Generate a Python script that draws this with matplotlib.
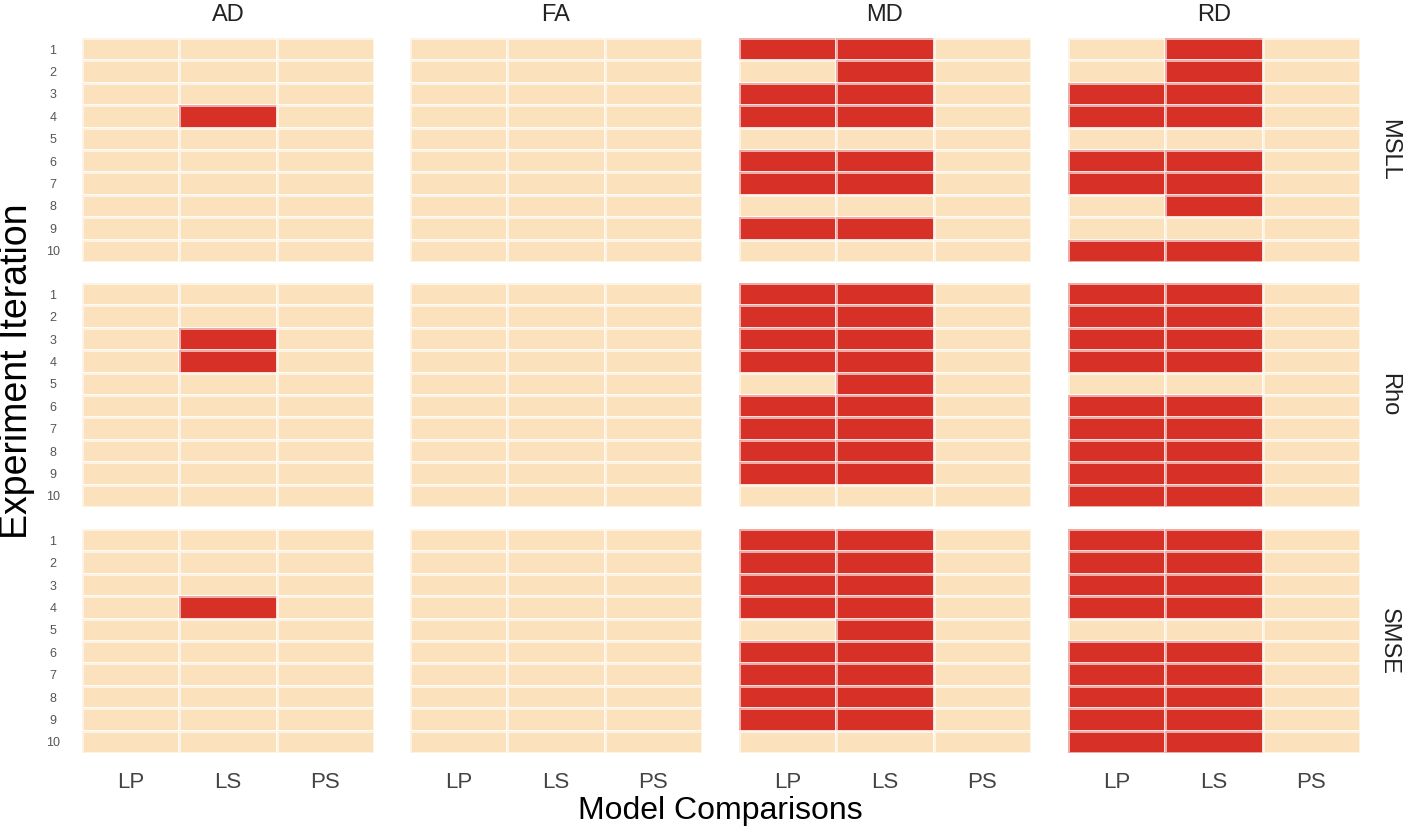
import numpy as np
import matplotlib
matplotlib.use("Agg")
from matplotlib import pyplot as plt
from matplotlib.colors import ListedColormap

plt.rcParams['font.family'] = ['Liberation Sans', 'DejaVu Sans']

measures = ["AD", "FA", "MD", "RD"]
metrics = ["MSLL", "Rho", "SMSE"]
comparisons = ["LP", "LS", "PS"]
iterations = list(range(1, 11))

# iterations flagged (red) per comparison, one dict per panel
AD_MSLL = {"LP": [], "LS": [4], "PS": []}
AD_RHO = {"LP": [], "LS": [3, 4], "PS": []}
AD_SMSE = {"LP": [], "LS": [4], "PS": []}
FA_MSLL = {"LP": [], "LS": [], "PS": []}
FA_RHO = {"LP": [], "LS": [], "PS": []}
FA_SMSE = {"LP": [], "LS": [], "PS": []}
MD_MSLL = {"LP": [1, 3, 4, 6, 7, 9], "LS": [1, 2, 3, 4, 6, 7, 9], "PS": []}
MD_RHO = {"LP": [1, 2, 3, 4, 6, 7, 8, 9], "LS": [1, 2, 3, 4, 5, 6, 7, 8, 9], "PS": []}
MD_SMSE = {"LP": [1, 2, 3, 4, 6, 7, 8, 9], "LS": [1, 2, 3, 4, 5, 6, 7, 8, 9], "PS": []}
RD_MSLL = {"LP": [3, 4, 6, 7, 10], "LS": [1, 2, 3, 4, 6, 7, 8, 10], "PS": []}
RD_RHO = {"LP": [1, 2, 3, 4, 6, 7, 8, 9, 10], "LS": [1, 2, 3, 4, 6, 7, 8, 9, 10], "PS": []}
RD_SMSE = {"LP": [1, 2, 3, 4, 6, 7, 8, 9, 10], "LS": [1, 2, 3, 4, 6, 7, 8, 9, 10], "PS": []}

panels = {
    ("MSLL", "AD"): AD_MSLL, ("Rho", "AD"): AD_RHO, ("SMSE", "AD"): AD_SMSE,
    ("MSLL", "FA"): FA_MSLL, ("Rho", "FA"): FA_RHO, ("SMSE", "FA"): FA_SMSE,
    ("MSLL", "MD"): MD_MSLL, ("Rho", "MD"): MD_RHO, ("SMSE", "MD"): MD_SMSE,
    ("MSLL", "RD"): RD_MSLL, ("Rho", "RD"): RD_RHO, ("SMSE", "RD"): RD_SMSE,
}

W, H = 1407, 833
fig = plt.figure(figsize=(W / 100, H / 100), dpi=100)
cmap = ListedColormap(["#FCE2BC", "#D73127"])

col_x = [82, 410, 739, 1068]
row_y = [38, 283, 529]
pw, ph = 292, 224

for r, metric in enumerate(metrics):
    for c, meas in enumerate(measures):
        ax = fig.add_axes([col_x[c] / W, 1 - (row_y[r] + ph) / H, pw / W, ph / H])
        d = panels[(metric, meas)]
        mat = np.zeros((len(iterations), len(comparisons)))
        for j, comp in enumerate(comparisons):
            for it in d[comp]:
                mat[iterations.index(it), j] = 1
        ax.pcolormesh(np.arange(len(comparisons) + 1), np.arange(len(iterations) + 1), mat,
                      cmap=cmap, vmin=0, vmax=1, edgecolors=(1, 1, 1, 0.6), linewidth=0.8)
        ax.set_ylim(len(iterations), 0)
        ax.set_xlim(0, len(comparisons))
        for s in ax.spines.values():
            s.set_visible(False)
        ax.tick_params(length=0)
        if c == 0:
            ax.set_yticks(np.arange(len(iterations)) + 0.5)
            ax.set_yticklabels(iterations, fontsize=9, color="#555555", ha="center")
            ax.tick_params(axis="y", pad=21)
        else:
            ax.set_yticks([])
        if r == len(metrics) - 1:
            ax.set_xticks(np.arange(len(comparisons)) + 0.5)
            ax.set_xticklabels(comparisons, fontsize=16, color="#444444")
            ax.tick_params(axis="x", pad=14)
        else:
            ax.set_xticks([])
        if r == 0:
            ax.set_title(meas, fontsize=17, color="#222222", pad=12)
        if c == len(measures) - 1:
            ax.text(1.1, 0.5, metric, rotation=-90, transform=ax.transAxes,
                    ha="center", va="center", fontsize=17, color="#222222")

fig.text(17 / W, 1 - 371 / H, "Experiment Iteration", rotation=90,
         ha="center", va="center", fontsize=27, color="black")
fig.text(720 / W, 1 - 819 / H, "Model Comparisons",
         ha="center", va="baseline", fontsize=23, color="black")

plt.savefig("out.png", dpi=100)
